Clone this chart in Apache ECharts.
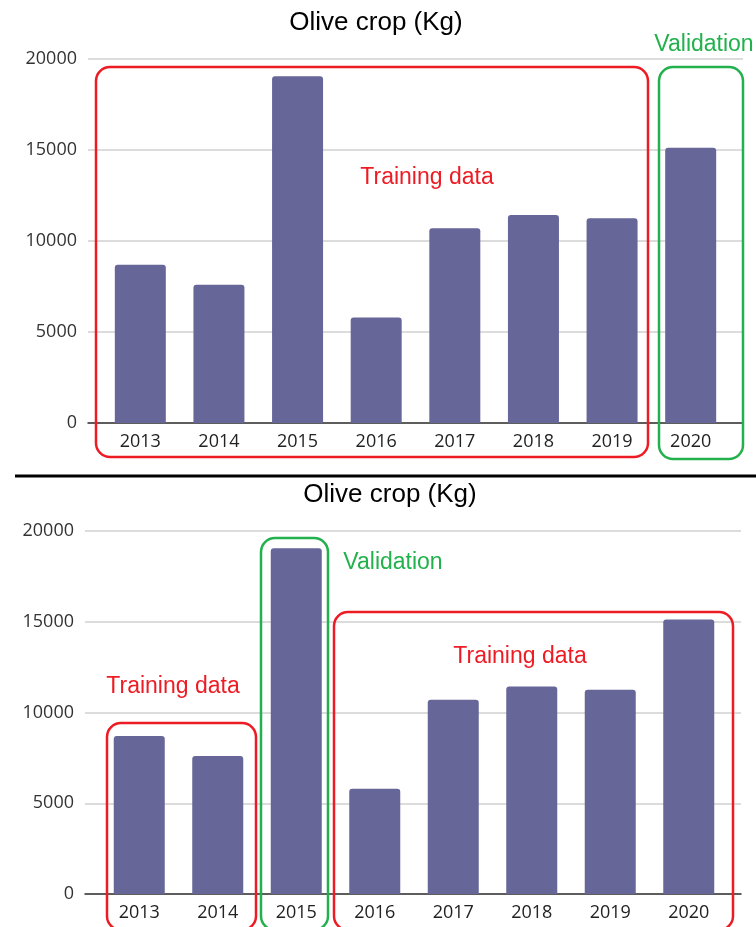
<!DOCTYPE html>
<html>
<head>
<meta charset="utf-8">
<script src="https://cdn.jsdelivr.net/npm/echarts@6/dist/echarts.min.js"></script>
<style>
html,body{margin:0;padding:0;background:#fff;}
#chart{width:756px;height:927px;}
</style>
</head>
<body>
<div id="chart"></div>
<script>
// ---- data ----
const years = ['2013', '2014', '2015', '2016', '2017', '2018', '2019', '2020'];
const oliveCropKg = [8700, 7600, 19050, 5800, 10700, 11430, 11250, 15130];
const yMin = 0;
const yMax = 20000;
const yInterval = 5000;
const chartTitle = 'Olive crop (Kg)';
const trainingLabel = 'Training data';
const validationLabel = 'Validation';

// ---- styles ----
const RED = '#ED1C24';
const GREEN = '#22B14C';
const BAR = '#666699';
const AXIS_FONT = '"Open Sans", "DejaVu Sans", sans-serif';
const TITLE_FONT = '"Liberation Sans", Arial, sans-serif';

const chart = echarts.init(document.getElementById('chart'), null, {renderer: 'canvas'});

// panel geometry: [gridlines grid, bars grid]
const panels = [
  {gl: {left: 88, top: 59, width: 655, height: 364}, bars: {left: 101, top: 59, width: 629, height: 364}},
  {gl: {left: 85, top: 531, width: 656, height: 363}, bars: {left: 100, top: 531, width: 628, height: 363}}
];

const grids = [], xAxes = [], yAxes = [], series = [];
panels.forEach((p, i) => {
  const gIdx = grids.length;
  grids.push(Object.assign({containLabel: false}, p.gl));
  grids.push(Object.assign({containLabel: false}, p.bars));
  // gridline grid
  xAxes.push({
    type: 'category', gridIndex: gIdx, data: years,
    axisLine: {show: true, lineStyle: {color: '#333', width: 1.5}},
    axisTick: {show: false}, axisLabel: {show: false}, splitLine: {show: false}
  });
  yAxes.push({
    type: 'value', gridIndex: gIdx, min: yMin, max: yMax, interval: yInterval,
    axisLine: {show: false}, axisTick: {show: false},
    axisLabel: {color: '#333', fontFamily: AXIS_FONT, fontSize: 18, margin: 11,
                formatter: v => String(v)},
    splitLine: {show: true, lineStyle: {color: '#d0d0d0', width: 1.5}}
  });
  // bars grid
  xAxes.push({
    type: 'category', gridIndex: gIdx + 1, data: years,
    axisLine: {show: false}, axisTick: {show: false},
    axisLabel: {color: '#222', fontFamily: AXIS_FONT, fontSize: 18, margin: 10},
    splitLine: {show: false}
  });
  yAxes.push({
    type: 'value', gridIndex: gIdx + 1, min: yMin, max: yMax, interval: yInterval,
    show: false, splitLine: {show: false}
  });
  series.push({
    type: 'bar', xAxisIndex: gIdx + 1, yAxisIndex: gIdx + 1,
    data: oliveCropKg, barWidth: 51,
    itemStyle: {color: BAR, borderRadius: [3, 3, 0, 0]},
    silent: true, animation: false
  });
});

function box(x, y, w, h, color) {
  return {type: 'rect', shape: {x: x, y: y, width: w, height: h, r: 14},
    style: {fill: 'none', stroke: color, lineWidth: 2.5}, z: 100};
}
function label(text, x, y, color) {
  return {type: 'text', x: x, y: y, z: 100,
    style: {text: text, fill: color, font: '23px ' + TITLE_FONT, align: 'center', verticalAlign: 'middle'}};
}

const graphics = [
  // separator
  {type: 'line', shape: {x1: 15, y1: 476, x2: 756, y2: 476}, style: {stroke: '#000', lineWidth: 3}, z: 100},
  // top panel
  box(96, 67, 552, 390, RED),
  box(659, 67, 84, 392, GREEN),
  label(trainingLabel, 427, 178, RED),
  label(validationLabel, 704, 45, GREEN),
  // bottom panel
  box(261, 538, 67, 392, GREEN),
  box(107, 723, 149, 207, RED),
  box(334, 612, 399, 318, RED),
  label(validationLabel, 393, 563, GREEN),
  label(trainingLabel, 173, 687, RED),
  label(trainingLabel, 520, 657, RED)
];

chart.setOption({
  animation: false,
  backgroundColor: '#fff',
  title: [
    {text: chartTitle, left: 376, top: 10, textAlign: 'center', padding: 0,
     textStyle: {fontFamily: TITLE_FONT, fontSize: 26, fontWeight: 'normal', color: '#000'}},
    {text: chartTitle, left: 390, top: 482, textAlign: 'center', padding: 0,
     textStyle: {fontFamily: TITLE_FONT, fontSize: 26, fontWeight: 'normal', color: '#000'}}
  ],
  grid: grids,
  xAxis: xAxes,
  yAxis: yAxes,
  series: series,
  graphic: graphics
});
</script>
</body>
</html>
